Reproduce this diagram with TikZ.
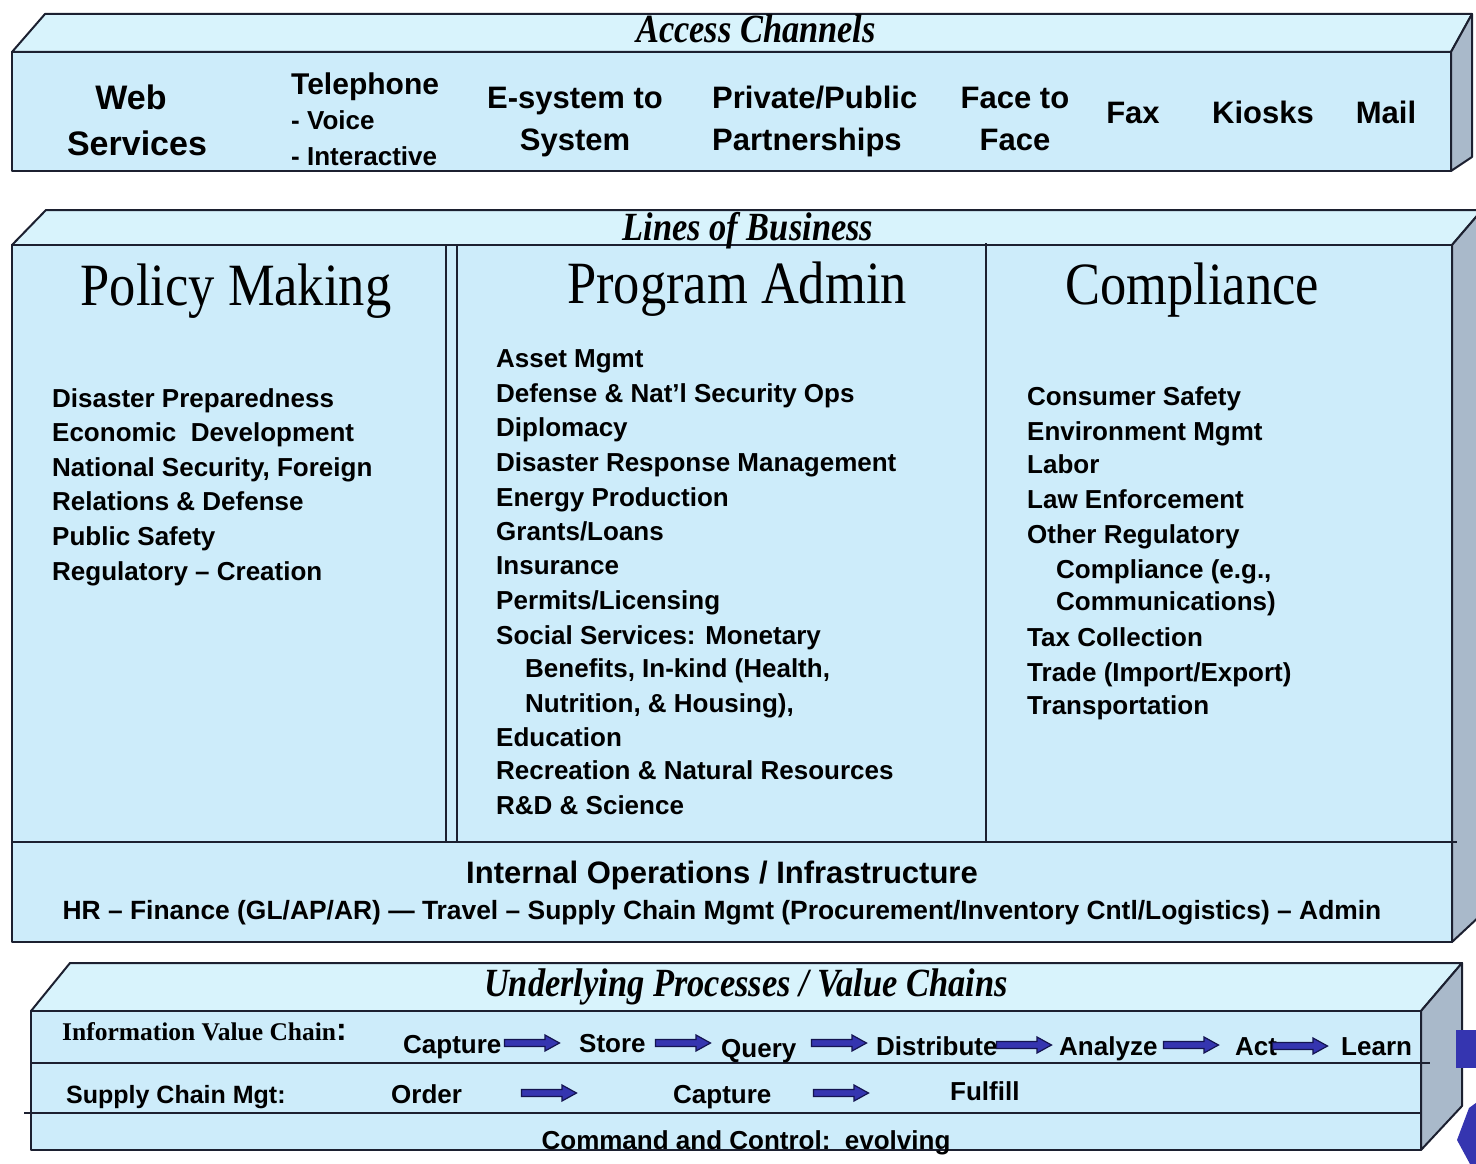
\documentclass[tikz,border=0pt]{standalone}
\usepackage{fontspec}
\setmainfont{Liberation Serif}
\setsansfont{Liberation Sans}
\newfontfamily\hdrfont[FakeStretch=0.875]{Liberation Serif}
\newfontfamily\ttlfont[FakeStretch=0.86]{Liberation Serif}
\newcommand\myfs[1]{\fontsize{#1}{#1}\selectfont}
\definecolor{frontc}{HTML}{CDECFA}
\definecolor{topc}{HTML}{D8F3FC}
\definecolor{sidec}{HTML}{A9B9CA}
\definecolor{edgec}{HTML}{1C2030}
\definecolor{arrblue}{HTML}{3535B0}
\definecolor{arrline}{HTML}{141450}
\tikzset{
  face/.style={draw=edgec, line width=2pt, line join=round},
  sep/.style={draw=edgec, line width=2pt},
  t26/.style={inner sep=0pt, anchor=base west, font=\sffamily\bfseries\myfs{26}},
  t31/.style={inner sep=0pt, anchor=base, font=\sffamily\bfseries\myfs{31}},
  ttl/.style={inner sep=0pt, anchor=base, font=\ttlfont\bfseries\itshape\myfs{40}},
  hdr/.style={inner sep=0pt, anchor=base, font=\hdrfont\myfs{60}},
  barr/.pic={
    \draw[draw=arrline, fill=arrblue, line width=1.2pt, line join=miter]
      (-27.5,-3.5) -- (13,-3.5) -- (13,-8) -- (27.5,0) -- (13,8) -- (13,3.5)
      -- (-27.5,3.5) -- cycle;
  }
}
\begin{document}
\begin{tikzpicture}[x=1pt,y=-1pt]
\useasboundingbox (0,0) rectangle (1476,1164);
\fill[white] (0,0) rectangle (1476,1164);

% ---------- Access Channels box ----------
\filldraw[face, fill=topc] (12,52) -- (45,14) -- (1472,14) -- (1451,52) -- cycle;
\filldraw[face, fill=frontc] (12,52) rectangle (1451,171);
\filldraw[face, fill=sidec] (1451,52) -- (1472,14) -- (1472,157) -- (1451,171) -- cycle;

% ---------- Lines of Business box ----------
\filldraw[face, fill=topc] (12,245) -- (46,210) -- (1482,210) -- (1452,245) -- cycle;
\filldraw[face, fill=frontc] (12,245) rectangle (1452,942);
\filldraw[face, fill=sidec] (1452,245) -- (1482,210) -- (1482,914) -- (1452,942) -- cycle;
\draw[sep] (446,245) -- (446,842);
\draw[sep] (457,245) -- (457,842);
\draw[sep] (986,243) -- (986,842);
\draw[sep] (12,842) -- (1457,842);

% ---------- Underlying Processes box ----------
\filldraw[face, fill=topc] (31,1011) -- (70,963) -- (1462,963) -- (1421,1011) -- cycle;
\filldraw[face, fill=frontc] (31,1011) rectangle (1421,1150);
\filldraw[face, fill=sidec] (1421,1011) -- (1462,963) -- (1462,1106) -- (1421,1150) -- cycle;
\draw[sep] (31,1063) -- (1430,1063);
\draw[sep] (24,1113) -- (1421,1113);

% partial blue shapes at right edge
\fill[arrblue] (1456,1030) rectangle (1480,1068);
\fill[arrblue] (1480,1100) -- (1469,1108) -- (1457,1140) -- (1470,1164) -- (1480,1164) -- cycle;

% ---------- Access Channels texts ----------
\node[ttl] (acc) at (756,43) {Access Channels};
\node[inner sep=0pt, anchor=base, font=\sffamily\bfseries\myfs{34}] (web1) at (131,110) {Web};
\node[inner sep=0pt, anchor=base, font=\sffamily\bfseries\myfs{34}] (web2) at (137,155) {Services};
\node[inner sep=0pt, anchor=base west, font=\sffamily\bfseries\myfs{30}] (tel1) at (291,95) {Telephone};
\node[t26] (tel2) at (291,129) {- Voice};
\node[t26] (tel3) at (291,165) {- Interactive};
\node[t31] (es1) at (575,108) {E-system to};
\node[t31] (es2) at (575,150) {System};
\node[t31, anchor=base west] (pp1) at (712,108) {Private/Public};
\node[t31, anchor=base west] (pp2) at (712,150) {Partnerships};
\node[t31] (ff1) at (1015,108) {Face to};
\node[t31] (ff2) at (1015,150) {Face};
\node[t31] (fax) at (1133,123) {Fax};
\node[t31] (kio) at (1263,123) {Kiosks};
\node[t31] (mail) at (1386,123) {Mail};

% ---------- Lines of Business texts ----------
\node[ttl] (lob) at (748,240) {Lines of Business};
\node[hdr] (hpm) at (236,305) {Policy Making};
\node[hdr] (hpa) at (737,303) {Program Admin};
\node[hdr] (hco) at (1192,304) {Compliance};

\node[t26] (pm1) at (52,407) {Disaster Preparedness};
\node[t26] (pm2) at (52,441) {Economic\ \ Development};
\node[t26] (pm3) at (52,476) {National Security, Foreign};
\node[t26] (pm4) at (52,510) {Relations \& Defense};
\node[t26] (pm5) at (52,545) {Public Safety};
\node[t26] (pm6) at (52,580) {Regulatory -- Creation};

\node[t26] (pa1) at (496,367) {Asset Mgmt};
\node[t26] (pa2) at (496,402) {Defense \& Nat'l Security Ops};
\node[t26] (pa3) at (496,436) {Diplomacy};
\node[t26] (pa4) at (496,471) {Disaster Response Management};
\node[t26] (pa5) at (496,506) {Energy Production};
\node[t26] (pa6) at (496,540) {Grants/Loans};
\node[t26] (pa7) at (496,574) {Insurance};
\node[t26] (pa8) at (496,609) {Permits/Licensing};
\node[t26] (pa9) at (496,644) {Social Services: Monetary};
\node[t26] (pa10) at (525,677) {Benefits, In-kind (Health,};
\node[t26] (pa11) at (525,712) {Nutrition, \& Housing),};
\node[t26] (pa12) at (496,746) {Education};
\node[t26] (pa13) at (496,779) {Recreation \& Natural Resources};
\node[t26] (pa14) at (496,814) {R\&D \& Science};

\node[t26] (co1) at (1027,405) {Consumer Safety};
\node[t26] (co2) at (1027,440) {Environment Mgmt};
\node[t26] (co3) at (1027,473) {Labor};
\node[t26] (co4) at (1027,508) {Law Enforcement};
\node[t26] (co5) at (1027,543) {Other Regulatory};
\node[t26] (co6) at (1056,578) {Compliance (e.g.,};
\node[t26] (co7) at (1056,610) {Communications)};
\node[t26] (co8) at (1027,646) {Tax Collection};
\node[t26] (co9) at (1027,681) {Trade (Import/Export)};
\node[t26] (co10) at (1027,714) {Transportation};

\node[t31] (iop) at (722,883) {Internal Operations / Infrastructure};
\node[t26, anchor=base, font=\sffamily\bfseries\myfs{26.4}] (hr) at (722,919)
  {HR -- Finance (GL/AP/AR) --- Travel -- Supply Chain Mgmt (Procurement/Inventory Cntl/Logistics) -- Admin};

% ---------- Underlying Processes texts ----------
\node[ttl] (upv) at (746,996) {Underlying Processes / Value Chains};
\node[inner sep=0pt, anchor=base west, font=\bfseries\myfs{25.5}] (ivc) at (62,1040)
  {Information Value Chain{\sffamily\myfs{32}:}};
\node[t26] (c1) at (403,1053) {Capture};
\node[t26] (c2) at (579,1052) {Store};
\node[t26] (c3) at (721,1057) {Query};
\node[t26] (c4) at (876,1055) {Distribute};
\node[t26] (c5) at (1059,1055) {Analyze};
\node[t26] (c6) at (1235,1055) {Act};
\node[t26] (c7) at (1341,1055) {Learn};
\pic (a1) at (532,1043) {barr};
\pic (a2) at (683,1043) {barr};
\pic (a3) at (839,1043) {barr};
\pic (a4) at (1024,1045) {barr};
\pic (a5) at (1191,1045) {barr};
\pic (a6) at (1300,1046) {barr};

\node[t26, font=\sffamily\bfseries\myfs{25}] (scm) at (66,1103) {Supply Chain Mgt:};
\node[t26] (s1) at (391,1103) {Order};
\node[t26] (s2) at (673,1103) {Capture};
\node[t26] (s3) at (950,1100) {Fulfill};
\pic (b1) at (549,1093) {barr};
\pic (b2) at (841,1093) {barr};

\node[t26, anchor=base] (cc) at (746,1149) {Command and Control:\ \ evolving};
\end{tikzpicture}
\end{document}
